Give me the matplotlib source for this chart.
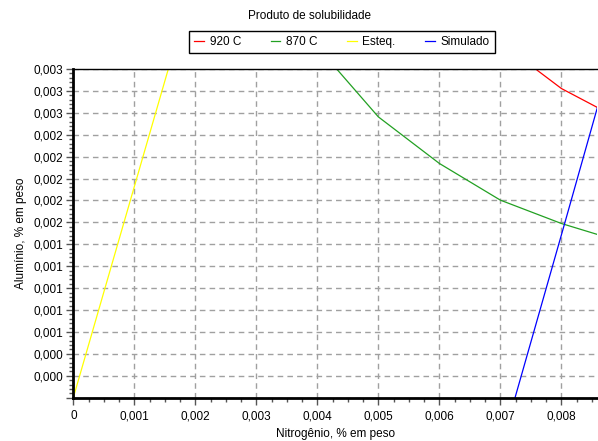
import matplotlib
matplotlib.use('Agg')
import matplotlib.pyplot as plt
from matplotlib.ticker import MultipleLocator, FuncFormatter

plt.rcParams['font.family'] = ['Liberation Sans', 'DejaVu Sans']
plt.rcParams['font.size'] = 8.5

# Curvas de solubilidade (N, Al em % em peso)
n_920 = [0.00760, 0.00800, 0.00859]
al_920 = [0.002990, 0.002822, 0.002649]

n_870 = [0.004334, 0.00500, 0.00600, 0.00700, 0.00800, 0.00859]
al_870 = [0.002989, 0.002563, 0.002138, 0.001803, 0.001590, 0.001490]

n_esteq = [0.0, 0.001557]
al_esteq = [0.0, 0.003]

n_sim = [0.00724, 0.00805, 0.00859]
al_sim = [0.0, 0.001584, 0.002649]

x_max = 0.00859
y_max = 0.003

fig = plt.figure(figsize=(5.98, 4.41), dpi=100)
ax = fig.add_axes([0.1226, 0.0982, 0.999 - 0.1226, 0.8435 - 0.0982])

ax.plot(n_920, al_920, color='#ff0000', lw=0.9, label='920 C')
ax.plot(n_870, al_870, color='#22a022', lw=0.9, label='870 C')
ax.plot(n_esteq, al_esteq, color='#ffff00', lw=0.9, label='Esteq.')
ax.plot(n_sim, al_sim, color='#0000ff', lw=0.9, label='Simulado')

ax.set_xlim(0, x_max)
ax.set_ylim(0, y_max)

ax.xaxis.set_major_locator(MultipleLocator(0.001))
ax.xaxis.set_minor_locator(MultipleLocator(0.00025))
ax.yaxis.set_major_locator(MultipleLocator(0.0002))
ax.yaxis.set_minor_locator(MultipleLocator(0.00004))


def fmt_x(v, pos):
    if abs(v) < 1e-12:
        return '0'
    return ('%.3f' % v).replace('.', ',')


def fmt_y(v, pos):
    if abs(v) < 1e-12:
        return ''
    return ('%.3f' % v).replace('.', ',')


ax.xaxis.set_major_formatter(FuncFormatter(fmt_x))
ax.yaxis.set_major_formatter(FuncFormatter(fmt_y))

ax.grid(True, which='major', color='#a0a0a0', linestyle=(0, (4, 3)), linewidth=1)

for side in ['left', 'bottom']:
    ax.spines[side].set_linewidth(2)
ax.spines['top'].set_linewidth(1)
ax.spines['right'].set_visible(False)

ax.tick_params(which='major', length=5, width=1, color='#555555', labelsize=8.5)
ax.tick_params(which='minor', length=3, width=1, color='#555555')
ax.tick_params(axis='x', pad=4)
ax.tick_params(axis='y', pad=2)

ax.set_xlabel('Nitrogênio, % em peso', fontsize=8.5, labelpad=4)
ax.set_ylabel('Alumínio, % em peso', fontsize=8.5, labelpad=5)

fig.text(0.517, 0.964, 'Produto de solubilidade', ha='center', va='center', fontsize=8.5)

leg = fig.legend(loc='center', bbox_to_anchor=(0.572, 0.905), ncol=4,
                 handlelength=0.8, handletextpad=0.5, columnspacing=2.5,
                 fancybox=False, framealpha=1, edgecolor='black',
                 borderpad=0.45, fontsize=8.5)
leg.get_frame().set_linewidth(1)

fig.savefig('out.png', dpi=100)
